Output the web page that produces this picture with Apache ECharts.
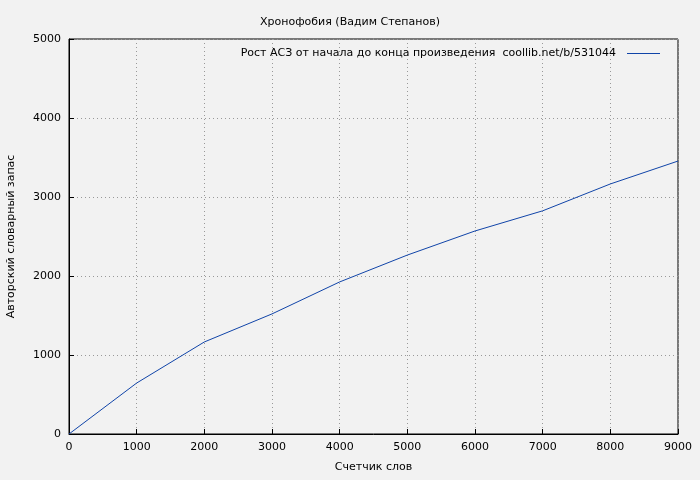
<!DOCTYPE html>
<html><head><meta charset="utf-8">
<script src="https://cdn.jsdelivr.net/npm/echarts@6/dist/echarts.min.js"></script>
<style>html,body{margin:0;background:#f2f2f2}#c{width:700px;height:480px}</style>
</head><body><div id="c"></div>
<script>
var words = [0, 1000, 2000, 3000, 4000, 5000, 6000, 7000, 8000, 9000];
var vocab = [0, 645, 1165, 1520, 1925, 2265, 2570, 2825, 3165, 3455];
var seriesName = 'Рост АСЗ от начала до конца произведения  coollib.net/b/531044';

var font = 'DejaVu Sans';
var grid = {show: true, lineStyle: {color: '#999', type: [1, 3], width: 1}};
var plain = function (v) { return String(v); };
var chart = echarts.init(document.getElementById('c'));
chart.setOption({
    backgroundColor: '#f2f2f2',
    animation: false,
    textStyle: {fontFamily: font},
    title: {text: 'Хронофобия (Вадим Степанов)', left: 'center', top: 12,
        textStyle: {fontSize: 11, fontWeight: 'normal', color: '#000', fontFamily: font}},
    legend: {right: 35, top: 43, align: 'right', itemWidth: 33, itemHeight: 1, itemGap: 5,
        icon: 'rect', textStyle: {fontSize: 11, color: '#000', fontFamily: font, padding: [0, 6, 0, 0]},
        data: [seriesName]},
    grid: {left: 69, right: 22, top: 39, bottom: 46, containLabel: false, outerBoundsMode: 'none',
        show: true, borderColor: '#000', borderWidth: 1, backgroundColor: 'transparent'},
    xAxis: {type: 'value', min: 0, max: 9000, interval: 1000,
        name: 'Счетчик слов', nameLocation: 'middle', nameGap: 28,
        nameTextStyle: {fontSize: 11, color: '#000'},
        axisLine: {lineStyle: {color: '#000'}}, axisTick: {inside: true, lineStyle: {color: '#000'}},
        axisLabel: {fontSize: 11, color: '#000', formatter: plain}, splitLine: grid},
    yAxis: {type: 'value', min: 0, max: 5000, interval: 1000,
        name: 'Авторский словарный запас', nameLocation: 'middle', nameGap: 52,
        nameTextStyle: {fontSize: 11, color: '#000'},
        axisLine: {show: true, lineStyle: {color: '#000'}}, axisTick: {show: true, inside: true, lineStyle: {color: '#000'}},
        axisLabel: {fontSize: 11, color: '#000', formatter: plain}, splitLine: grid},
    series: [{name: seriesName, type: 'line', showSymbol: false,
        lineStyle: {color: '#1044a8', width: 1}, itemStyle: {color: '#1044a8'},
        data: words.map(function (w, i) { return [w, vocab[i]]; })}]
});
</script></body></html>
